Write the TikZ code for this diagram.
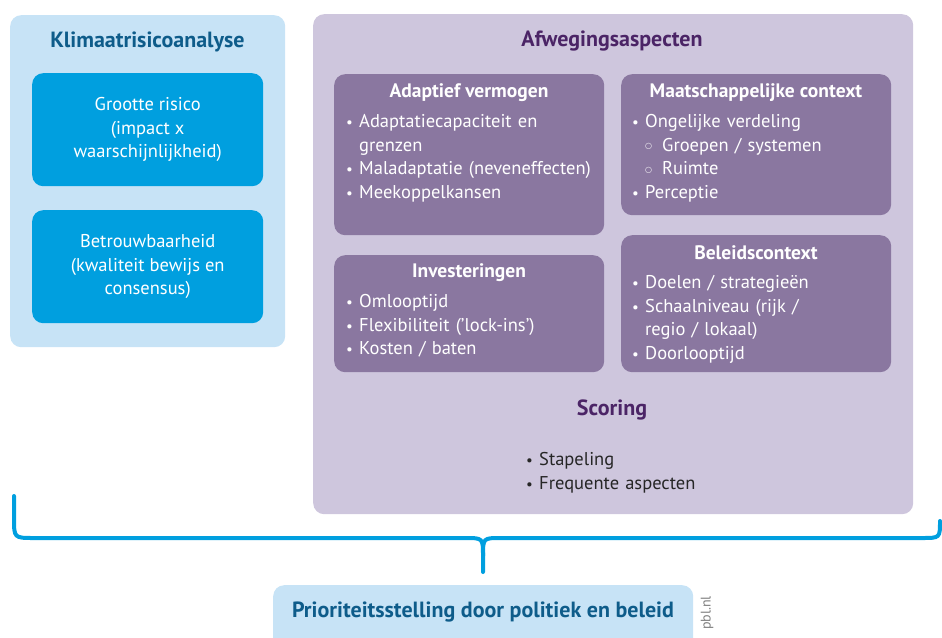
\documentclass[tikz,border=0pt]{standalone}
\usepackage{fontspec}
\setmainfont{PT Sans}
\newfontfamily\symf{DejaVu Sans}
\definecolor{lblue}{HTML}{C7E3F6}
\definecolor{mblue}{HTML}{009FDF}
\definecolor{dblue}{HTML}{0E5C8A}
\definecolor{lpurp}{HTML}{CEC6DD}
\definecolor{mpurp}{HTML}{8A77A0}
\definecolor{dpurp}{HTML}{4B2466}
\newcommand\bi[1]{\par\noindent\hangindent=13pt\hangafter=1\makebox[13pt][l]{\fontsize{15}{15}\selectfont •}#1}
\newcommand\sbi[1]{\par\noindent\hangindent=30pt\hangafter=1\hspace*{13pt}\makebox[17pt][l]{\raisebox{2.5pt}{\symf\fontsize{8}{8}\selectfont ○}}#1}
\tikzset{
  panel/.style={rounded corners=11pt, inner sep=0pt, anchor=north west},
  outerblue/.style={panel, fill=lblue},
  innerblue/.style={panel, fill=mblue},
  outerpurp/.style={panel, fill=lpurp},
  innerpurp/.style={panel, fill=mpurp},
  bigtitle/.style={font=\fontsize{22}{26}\selectfont\bfseries, inner sep=0pt},
  boxtitle/.style={font=\fontsize{19.5}{23}\selectfont\bfseries, text=white, inner sep=0pt},
  bodytext/.style={font=\fontsize{18.5}{23.5}\selectfont, inner sep=0pt, anchor=north west, align=left, text width=275pt},
  centertext/.style={font=\fontsize{18.5}{23.5}\selectfont, inner sep=0pt, align=center, text=white},
  brace/.style={draw=mblue, line width=4pt, line cap=round}
}
\begin{document}
\begin{tikzpicture}[x=1pt,y=-1pt]
\clip (0,0) rectangle (942,637);
% left panel
\node[outerblue, minimum width=275pt, minimum height=332pt] (klim) at (10,15) {};
\node[bigtitle, text=dblue] (klimt) at (147.5,42) {Klimaatrisicoanalyse};
\node[innerblue, minimum width=231pt, minimum height=113pt] (groot) at (32,73) {};
\node[centertext] (grootT) at (groot.center) {Grootte risico\\(impact x\\waarschijnlijkheid)};
\node[innerblue, minimum width=231pt, minimum height=113pt] (betr) at (32,210) {};
\node[centertext] (betrT) at (betr.center) {Betrouwbaarheid\\(kwaliteit bewijs en\\consensus)};
% right panel
\node[outerpurp, minimum width=600pt, minimum height=500pt] (afw) at (313,14) {};
\node[bigtitle, text=dpurp] (afwt) at (612,41) {Afwegingsaspecten};
% Adaptief vermogen
\node[innerpurp, minimum width=270pt, minimum height=161pt] (adap) at (334,74) {};
\node[boxtitle] (adapt) at (469,93) {Adaptief vermogen};
\node[bodytext, text=white] (adapb) at (346,104) {\bi{Adaptatiecapaciteit en\newline grenzen}\bi{Maladaptatie (neveneffecten)}\bi{Meekoppelkansen}};
% Maatschappelijke context
\node[innerpurp, minimum width=270pt, minimum height=141pt] (maat) at (621,74) {};
\node[boxtitle] (maatt) at (756,93) {Maatschappelijke context};
\node[bodytext, text=white] (maatb) at (632,104) {\bi{Ongelijke verdeling}\sbi{Groepen / systemen}\sbi{Ruimte}\bi{Perceptie}};
% Investeringen
\node[innerpurp, minimum width=270pt, minimum height=117pt] (inv) at (334,255) {};
\node[boxtitle] (invt) at (469,273) {Investeringen};
\node[bodytext, text=white] (invb) at (346,284) {\bi{Omlooptijd}\bi{Flexibiliteit ('lock-ins')}\bi{Kosten / baten}};
% Beleidscontext
\node[innerpurp, minimum width=270pt, minimum height=137pt] (bel) at (621,235) {};
\node[boxtitle] (belt) at (756,253) {Beleidscontext};
\node[bodytext, text=white] (belb) at (632,265) {\bi{Doelen / strategieën}\bi{Schaalniveau (rijk /\newline regio / lokaal)}\bi{Doorlooptijd}};
% Scoring
\node[bigtitle, text=dpurp] (scor) at (612,410) {Scoring};
\node[bodytext, text=black!85, text width=220pt] (scorb) at (526,442) {\bi{Stapeling}\bi{Frequente aspecten}};
% bottom box
\node[outerblue, minimum width=420pt, minimum height=70pt] (prio) at (273,585) {};
\node[bigtitle, text=dblue] (priot) at (483,612) {Prioriteitsstelling door politiek en beleid};
\node[rotate=90, font=\fontsize{14}{15}\selectfont, text=black!50, inner sep=0pt] (pbl) at (707,613) {pbl.nl};
% brace
\coordinate (bl) at (14,496);
\coordinate (bm) at (483,572);
\coordinate (br) at (940,521);
\draw[brace] (bl) -- (14,518) .. controls (14,538) .. (34,538) -- (465,538) .. controls (483,538) .. (483,556) -- (bm);
\draw[brace] (483,556) .. controls (483,538) .. (501,538) -- (922,538) .. controls (940,538) .. (br);
\end{tikzpicture}
\end{document}
